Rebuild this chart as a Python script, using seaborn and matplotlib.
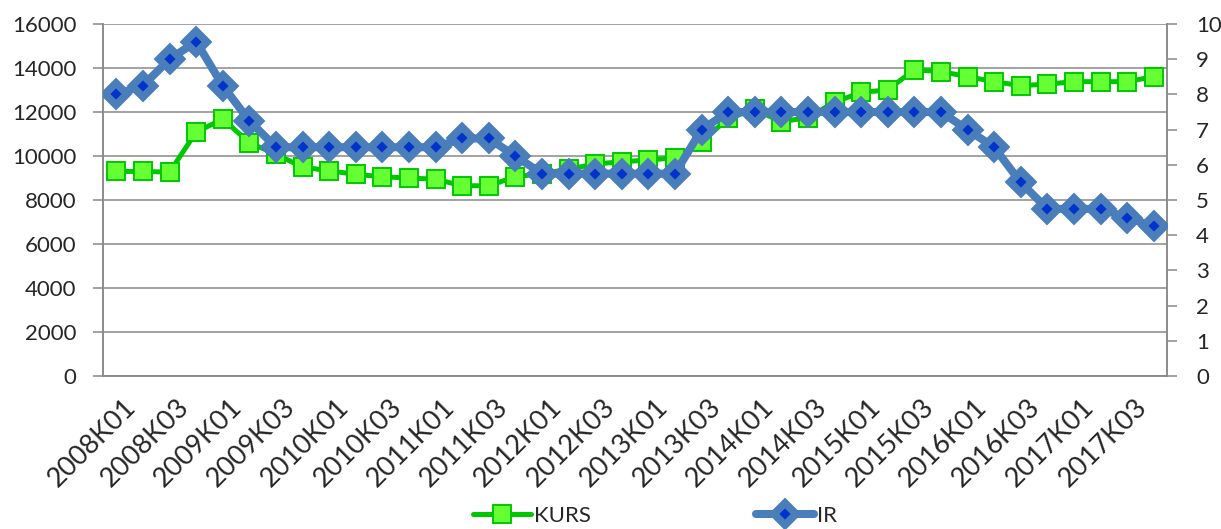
import matplotlib
matplotlib.use("Agg")
import matplotlib.pyplot as plt
import seaborn as sns
import numpy as np
import pandas as pd

# Quarterly series, 2008K01 .. 2017K04
years = list(range(2008, 2018))
quarters = [f"{y}K0{q}" for y in years for q in range(1, 5)]

kurs = [9300, 9300, 9270, 11090, 11680, 10610, 10080, 9500,
        9330, 9170, 9060, 9000, 8950, 8650, 8650, 9060,
        9200, 9400, 9640, 9740, 9820, 9920, 10650, 11710,
        12120, 11560, 11750, 12450, 12890, 13010, 13920, 13840,
        13610, 13380, 13200, 13270, 13380, 13380, 13380, 13610]

ir = [8.0, 8.25, 9.0, 9.5, 8.25, 7.25, 6.5, 6.5,
      6.5, 6.5, 6.5, 6.5, 6.5, 6.75, 6.75, 6.25,
      5.75, 5.75, 5.75, 5.75, 5.75, 5.75, 7.0, 7.5,
      7.5, 7.5, 7.5, 7.5, 7.5, 7.5, 7.5, 7.5,
      7.0, 6.5, 5.5, 4.75, 4.75, 4.75, 4.5, 4.25]

left_ticks = [0, 2000, 4000, 6000, 8000, 10000, 12000, 14000, 16000]
right_ticks = list(range(0, 11))

df = pd.DataFrame({"pos": np.arange(len(quarters)), "quarter": quarters,
                   "KURS": kurs, "IR": ir})

sns.set_theme(style="white")
plt.rcParams["font.family"] = ["Lato", "DejaVu Sans"]

fig = plt.figure(figsize=(12.21, 5.29), dpi=100)
ax = fig.add_axes([0.0844, 0.289, 0.8714, 0.6656])
ax2 = ax.twinx()

green_line = "#00C800"
green_face = "#66FF33"
blue_line = "#4A7EBB"
blue_face = "#0033CC"
grid_col = "#898989"
fs = 16

sns.lineplot(data=df, x="pos", y="KURS", ax=ax, color=green_line, linewidth=3.6,
             marker="s", markersize=13, markerfacecolor=green_face,
             markeredgecolor=green_line, markeredgewidth=1.4, label="KURS",
             legend=False, zorder=3)
sns.lineplot(data=df, x="pos", y="IR", ax=ax2, color=blue_line, linewidth=5.8,
             marker="D", markersize=11.5, markerfacecolor=blue_face,
             markeredgecolor=blue_line, markeredgewidth=5.5, label="IR",
             legend=False, zorder=3)

n = len(quarters)
for a in (ax, ax2):
    a.set_xlim(-0.5, n - 0.5)
    a.set_xlabel("")
    a.set_ylabel("")

ax.set_ylim(0, 16000)
ax.set_yticks(left_ticks)
ax2.set_ylim(0, 10)
ax2.set_yticks(right_ticks)

ax.grid(axis="y", color=grid_col, linewidth=1.1)
ax.set_axisbelow(True)

# Category boundary ticks, labels on every second category
ax.set_xticks(np.arange(-0.5, n, 1.0))
ax.set_xticklabels([])
ax.set_xticks(np.arange(0, n, 2) + 0.25, minor=True)
ax.set_xticklabels(quarters[::2], minor=True, rotation=45, ha="right",
                   rotation_mode="anchor", fontsize=19.5)
ax.tick_params(axis="x", which="major", length=6, width=1.1, color=grid_col,
               direction="out")
ax.tick_params(axis="x", which="minor", length=0, pad=13)

ax.tick_params(axis="y", length=7, width=1.1, color=grid_col, direction="out",
               labelsize=fs, pad=12)
ax2.tick_params(axis="y", length=7, width=1.1, color=grid_col, direction="out",
                labelsize=fs, pad=14)

for a in (ax, ax2):
    a.spines["top"].set_visible(False)
    for s in ("left", "right", "bottom"):
        a.spines[s].set_color(grid_col)
        a.spines[s].set_linewidth(1.1)

h1, l1 = ax.get_legend_handles_labels()
h2, l2 = ax2.get_legend_handles_labels()
fig.legend(h1 + h2, l1 + l2, loc="center", bbox_to_anchor=(0.5365, 0.025),
           ncol=2, frameon=False, fontsize=fs, handlelength=2.6,
           columnspacing=7.4, handletextpad=0.15)

fig.savefig("out.png", dpi=100)
